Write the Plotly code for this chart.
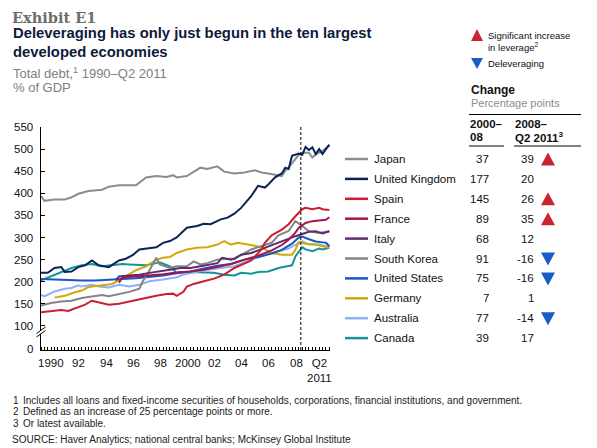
import plotly.graph_objects as go

FONT = "Liberation Sans, Arial, sans-serif"
SERIF = "DejaVu Serif, Georgia, serif"

# ---------------- data ----------------
countries = ["Japan", "United Kingdom", "Spain", "France", "Italy",
             "South Korea", "United States", "Germany", "Australia", "Canada"]
line_colors = ["#8c8c8c", "#0a2456", "#c8202f", "#a3154f", "#5b2d6e",
               "#858585", "#1657c4", "#d1a90a", "#8ab2f4", "#14939a"]
change_2000_08 = [37, 177, 145, 89, 68, 91, 75, 7, 77, 39]
change_2008_q2_2011 = [39, 20, 26, 35, 12, -16, -16, 1, -14, 17]

japan_t = [1990.0, 1990.25, 1991.0, 1991.75, 1992.25, 1992.75, 1993.5, 1994.5, 1995.0, 1995.75,
           1997.0, 1997.75, 1998.5, 1999.25, 1999.75, 2000.0, 2000.75, 2001.75, 2002.25, 2003.0,
           2003.5, 2004.25, 2005.0, 2005.75, 2006.25, 2006.75, 2007.75, 2008.0, 2008.25, 2008.75,
           2009.0, 2009.25, 2009.75, 2010.0, 2010.25, 2010.75, 2011.25]
japan_v = [394, 383, 386, 386, 391, 399, 405, 408, 415, 418,
           418, 436, 439, 437, 441, 436, 439, 458, 455, 461,
           449, 445, 447, 452, 447, 445, 439, 451, 458, 477,
           487, 492, 492, 481, 488, 496, 508]

uk_t = [1990.0, 1990.5, 1991.0, 1991.5, 1991.75, 1992.25, 1992.75, 1993.25, 1993.75, 1994.25,
        1995.0, 1995.75, 1996.25, 1996.75, 1997.25, 1998.0, 1998.5, 1999.0, 1999.5, 2000.0,
        2000.25, 2000.75, 2001.5, 2002.0, 2002.5, 2003.25, 2003.75, 2004.25, 2004.75, 2005.5,
        2006.0, 2006.5, 2006.75, 2007.25, 2007.75, 2008.0, 2008.25, 2008.5, 2009.0, 2009.25,
        2009.5, 2009.75, 2010.0, 2010.25, 2010.5, 2010.75, 2011.0, 2011.25]
uk_v = [220, 220, 231, 233, 222, 223, 233, 237, 248, 237,
        233, 248, 252, 260, 273, 277, 278, 288, 292, 300,
        307, 322, 326, 331, 330, 341, 345, 354, 367, 394,
        417, 413, 420, 436, 445, 458, 455, 485, 490, 487,
        505, 498, 504, 489, 500, 489, 500, 510]

spain_t = [1990.0, 1990.75, 1991.5, 1992.0, 1992.5, 1993.25, 1993.75, 1994.25, 1995.0, 1995.75,
           1996.5, 1997.25, 1997.75, 1998.5, 1999.25, 1999.75, 2000.0, 2000.5, 2000.75, 2001.25,
           2002.0, 2002.75, 2003.5, 2004.25, 2005.5, 2006.25, 2006.5, 2007.0, 2007.75, 2008.25,
           2008.75, 2009.25, 2009.5, 2010.0, 2010.5, 2010.75, 2011.25]
spain_v = [131, 134, 136, 134, 140, 148, 157, 153, 148, 150,
           155, 161, 163, 168, 172, 173, 168, 177, 189, 195,
           201, 207, 216, 231, 248, 273, 288, 305, 318, 330,
           348, 364, 367, 364, 367, 364, 362]

france_t = [1995.75, 1996.0, 1997.0, 1998.0, 1999.0, 2000.0, 2001.0, 2002.0, 2003.0, 2004.0,
            2005.0, 2006.0, 2007.0, 2007.75, 2008.25, 2008.75, 2009.0, 2009.5, 2010.0, 2010.5,
            2011.0, 2011.25]
france_v = [198, 210, 212, 214, 217, 221, 223, 227, 233, 240,
            250, 259, 271, 283, 295, 311, 322, 333, 337, 338,
            340, 346]

italy_t = [1995.5, 1995.75, 1996.5, 1997.25, 1998.0, 1998.75, 1999.5, 2000.25, 2001.0, 2001.75,
           2002.5, 2003.0, 2003.35, 2004.0, 2004.25, 2004.75, 2005.5, 2006.5, 2007.5, 2008.25,
           2008.75, 2009.25, 2009.75, 2010.25, 2010.75, 2011.25]
italy_v = [203, 212, 214, 216, 220, 223, 227, 231, 231, 235,
           239, 242, 254, 250, 252, 261, 265, 277, 288, 298,
           303, 308, 313, 314, 309, 314]

korea_t = [1990.0, 1990.75, 1991.5, 1992.25, 1993.0, 1993.75, 1994.5, 1995.0, 1995.75, 1996.5,
           1997.25, 1997.5, 1997.75, 1998.25, 1998.5, 1998.75, 1999.5, 2000.0, 2000.75, 2001.25,
           2001.75, 2002.25, 2003.0, 2003.5, 2004.25, 2005.5, 2007.0, 2007.5, 2008.25, 2008.5,
           2008.75, 2009.25, 2009.75, 2010.5, 2011.25]
korea_v = [146, 152, 155, 157, 163, 167, 170, 167, 172, 177,
           184, 201, 212, 242, 254, 239, 231, 235, 235, 246,
           239, 242, 250, 252, 252, 273, 288, 305, 315, 326,
           337, 326, 314, 310, 314]

us_t = [1990.0, 1991.0, 1992.0, 1993.0, 1994.0, 1995.0, 1996.0, 1997.0, 1998.0, 1999.0,
        2000.0, 2001.0, 2002.0, 2003.0, 2004.0, 2005.0, 2006.0, 2007.0, 2007.75, 2008.5,
        2009.0, 2009.25, 2009.75, 2010.25, 2010.75, 2011.0, 2011.25]
us_v = [206, 205, 203, 203, 203, 204, 206, 208, 211, 214,
        219, 223, 230, 236, 240, 250, 256, 264, 272, 286,
        300, 302, 296, 291, 289, 288, 280]

germany_t = [1991.0, 1991.75, 1992.5, 1993.0, 1993.5, 1994.0, 1994.75, 1995.25, 1995.75, 1996.5,
             1997.0, 1997.75, 1998.5, 1999.0, 1999.5, 2000.0, 2000.75, 2001.5, 2002.25, 2003.0,
             2003.5, 2004.0, 2004.5, 2005.25, 2006.0, 2006.5, 2007.0, 2007.75, 2008.5, 2008.75,
             2009.0, 2009.5, 2010.25, 2010.75, 2011.25]
germany_v = [164, 168, 176, 180, 188, 190, 192, 195, 203, 216,
             226, 235, 250, 254, 256, 265, 273, 277, 278, 284,
             292, 284, 288, 284, 280, 273, 265, 261, 261, 272,
             290, 286, 284, 280, 277]

australia_t = [1990.0, 1990.25, 1991.0, 1991.75, 1992.25, 1992.75, 1993.0, 1993.75, 1994.25, 1995.0,
               1995.75, 1996.5, 1997.25, 1998.0, 1999.0, 2000.0, 2000.5, 2001.5, 2002.25, 2003.25,
               2004.25, 2005.5, 2007.0, 2008.25, 2009.0, 2009.25, 2009.75, 2010.5, 2011.25]
australia_v = [170, 167, 178, 184, 186, 192, 189, 193, 189, 187,
               193, 189, 193, 201, 205, 210, 216, 223, 227, 231,
               235, 250, 265, 275, 288, 292, 284, 284, 278]

canada_t = [1990.0, 1990.75, 1991.5, 1992.25, 1993.0, 1993.75, 1994.5, 1995.25, 1996.0, 1996.5,
            1997.75, 1998.5, 1998.75, 1999.5, 2000.0, 2000.75, 2002.0, 2002.75, 2003.5, 2004.25,
            2004.75, 2005.5, 2006.0, 2006.75, 2007.5, 2008.5, 2008.75, 2009.25, 2009.5, 2010.0,
            2010.5, 2010.75, 2011.25]
canada_v = [203, 212, 222, 231, 237, 240, 235, 237, 240, 239,
            237, 242, 244, 235, 220, 222, 220, 220, 216, 214,
            220, 218, 222, 223, 231, 237, 257, 278, 273, 269,
            275, 273, 277]

series = {
    "Japan": (japan_t, japan_v), "United Kingdom": (uk_t, uk_v), "Spain": (spain_t, spain_v),
    "France": (france_t, france_v), "Italy": (italy_t, italy_v),
    "South Korea": (korea_t, korea_v), "United States": (us_t, us_v),
    "Germany": (germany_t, germany_v), "Australia": (australia_t, australia_v),
    "Canada": (canada_t, canada_v),
}

y_tick_vals = [47.7, 100, 150, 200, 250, 300, 350, 400, 450, 500, 550]
y_tick_text = ["0", "100", "150", "200", "250", "300", "350", "400", "450", "500", "550"]
x_tick_vals = [1990.75, 1992.8, 1994.8, 1996.8, 1998.8, 2000.8, 2002.8, 2004.8, 2006.8, 2008.8, 2010.55]
x_tick_text = ["1990", "92", "94", "96", "98", "2000", "02", "04", "06", "08", "Q2<br>2011"]
crisis_marker = 2009.15

# ---------------- figure ----------------
# The page body has an 8px margin, so the figure is drawn from (8, 8) in the window.
OFF = 8
W, H = 597 - OFF, 448 - OFF
L, R, T, B = 41, 330, 127, 350   # plot area in window pixels

fig = go.Figure()
draw_order = ["Canada", "Australia", "Germany", "United States", "South Korea",
              "Italy", "France", "Spain", "Japan", "United Kingdom"]
for name in draw_order:
    t, v = series[name]
    fig.add_trace(go.Scatter(x=t, y=v, mode="lines", name=name,
                             line=dict(color=line_colors[countries.index(name)], width=2),
                             hoverinfo="skip", showlegend=False))


def px(x):
    return (x - L) / (R - L)


def py(y):
    return (B - y) / (B - T)


def ann(x, y, text, size=11.5, color="#111111", xanchor="left", yanchor="middle", family=FONT):
    fig.add_annotation(x=px(x), y=py(y), xref="paper", yref="paper", text=text,
                       showarrow=False, xanchor=xanchor, yanchor=yanchor, align=xanchor,
                       font=dict(family=family, size=size, color=color), borderpad=0)


def hline(x0, x1, y, color="black", width=1):
    fig.add_shape(type="line", xref="paper", yref="paper", x0=px(x0), x1=px(x1),
                  y0=py(y), y1=py(y), line=dict(color=color, width=width))


def tri(cx, cy, w, h, up, color):
    if up:
        pts = [(cx - w / 2, cy + h / 2), (cx + w / 2, cy + h / 2), (cx, cy - h / 2)]
    else:
        pts = [(cx - w / 2, cy - h / 2), (cx + w / 2, cy - h / 2), (cx, cy + h / 2)]
    path = "M " + " L ".join(f"{px(a):.5f},{py(b):.5f}" for a, b in pts) + " Z"
    fig.add_shape(type="path", xref="paper", yref="paper", path=path,
                  fillcolor=color, line=dict(width=0))


# titles
ann(11, 8.5, "<b>Exhibit E1</b>", size=14.5, color="#6e6e6e", family=SERIF, yanchor="top")
ann(12, 33, "<b>Deleveraging has only just begun in the ten largest</b>", size=14.8, color="#0e1a3c")
ann(12, 52, "<b>developed economies</b>", size=14.8, color="#0e1a3c")
ann(12, 73, "Total debt,<sup>1</sup> 1990–Q2 2011", size=13, color="#808080")
ann(12, 88, "% of GDP", size=13, color="#808080")

# key
UP_RED = "#c9252c"
DOWN_BLUE = "#1a5dc8"
tri(477, 35, 12, 12, True, UP_RED)
ann(487, 36, "Significant increase", size=9.5)
ann(487, 47, "in leverage<sup>2</sup>", size=9.5)
tri(477, 63.5, 12, 11, False, DOWN_BLUE)
ann(487, 63, "Deleveraging", size=9.5)

# table header
ann(470, 90, "<b>Change</b>", size=12)
ann(470, 103, "Percentage points", size=11, color="#8c8c8c")
hline(469, 581, 114.5)
ann(469, 124, "<b>2000–</b>", size=11.5)
ann(469, 137, "<b>08</b>", size=11.5)
ann(514, 124, "<b>2008–</b>", size=11.5)
ann(514, 137, "<b>Q2 2011<sup>3</sup></b>", size=11.5)
hline(469, 504, 146)
hline(514, 581, 146)

# table rows
for i, name in enumerate(countries):
    y = 159 + i * 19.9
    hline(345, 368, y, color=line_colors[i], width=2.5)
    ann(373, y, name, size=11.5)
    ann(490, y, str(change_2000_08[i]), size=11.5, xanchor="right")
    ann(535, y, str(change_2008_q2_2011[i]), size=11.5, xanchor="right")
    if change_2008_q2_2011[i] >= 25:
        tri(548, y, 14, 13, True, UP_RED)
    elif change_2008_q2_2011[i] < 0:
        tri(548, y + 0.5, 14, 13, False, DOWN_BLUE)

# y tick labels (placed on the y scale)
for v, txt in zip(y_tick_vals, y_tick_text):
    fig.add_annotation(x=px(34), y=v, xref="paper", yref="y", text=txt, showarrow=False,
                       xanchor="right", yanchor="middle", borderpad=0,
                       font=dict(family=FONT, size=11.5, color="#111111"))
# x tick labels (placed on the x scale)
for v, txt in zip(x_tick_vals, x_tick_text):
    fig.add_annotation(x=v, y=py(356), xref="x", yref="paper", text=txt, showarrow=False,
                       xanchor="center", yanchor="top", borderpad=0,
                       font=dict(family=FONT, size=11.5, color="#111111"))

# footnotes
notes = [
    ("1", "Includes all loans and fixed-income securities of households, corporations, financial institutions, and government."),
    ("2", "Defined as an increase of 25 percentage points or more."),
    ("3", "Or latest available."),
]
for k, (num, txt) in enumerate(notes):
    yy = 400 + k * 11.8
    ann(12, yy, num, size=10, color="#222222")
    ann(22, yy, txt, size=10, color="#222222")
ann(11, 439, "SOURCE: Haver Analytics; national central banks; McKinsey Global Institute",
    size=10, color="#222222")

# vertical dashed marker
fig.add_shape(type="line", xref="x", yref="paper", x0=crisis_marker, x1=crisis_marker,
              y0=0, y1=1, line=dict(color="black", width=1, dash="3px,2px"))

# axis break marks
brk = [(36.5, 333.5), (45.5, 327.0), (45.5, 330.5), (36.5, 337.0)]
fig.add_shape(type="path", xref="paper", yref="paper",
              path="M " + " L ".join(f"{px(a):.5f},{py(b):.5f}" for a, b in brk) + " Z",
              fillcolor="white", line=dict(width=0))
for (a, b), (c, d) in [((36.5, 333.5), (45.5, 327.0)), ((36.5, 337.0), (45.5, 330.5))]:
    fig.add_shape(type="line", xref="paper", yref="paper", x0=px(a), y0=py(b),
                  x1=px(c), y1=py(d), line=dict(color="black", width=1))

fig.update_layout(
    width=W, height=H, autosize=False,
    margin=dict(l=L - OFF, r=597 - R, t=T - OFF, b=448 - B, pad=0),
    paper_bgcolor="white", plot_bgcolor="white",
    font=dict(family=FONT, size=11.5, color="#111111"),
    xaxis=dict(range=[1990, 2011.3], showgrid=False, zeroline=False,
               showline=True, linecolor="black", linewidth=1,
               tickmode="array", tickvals=x_tick_vals, ticktext=x_tick_text,
               ticks="", showticklabels=False,
               minor=dict(ticks="inside", ticklen=3, tickcolor="black", tickwidth=1,
                          dtick=0.25, tick0=1990, showgrid=False),
               fixedrange=True),
    yaxis=dict(range=[45.5, 550], showgrid=False, zeroline=False,
               showline=True, linecolor="black", linewidth=1,
               tickmode="array", tickvals=y_tick_vals, ticktext=y_tick_text,
               ticks="inside", ticklen=4, tickcolor="black", showticklabels=False,
               fixedrange=True),
)

fig.write_html("out.html")
